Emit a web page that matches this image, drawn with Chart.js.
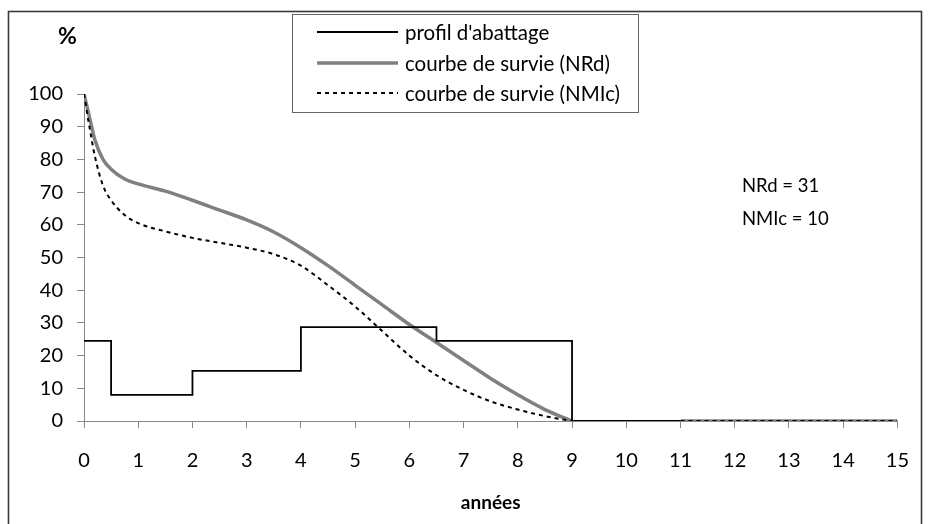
<!DOCTYPE html>
<html>
<head>
<meta charset="utf-8">
<script src="https://cdn.jsdelivr.net/npm/chart.js@4/dist/chart.umd.min.js"></script>
<style>
html,body{margin:0;padding:0;background:#fff;}
#wrap{position:relative;width:930px;height:524px;}
</style>
</head>
<body>
<div id="wrap"><canvas id="c" width="930" height="524"></canvas></div>
<script>
// ---- data ----
const profilX = [0, 0.5, 2, 4, 6.5, 9, 11];
const profilY = [24.5, 8, 15.3, 28.7, 24.5, 0, 0];

const survieX = [0, 0.1, 0.2, 0.35, 0.5, 0.75, 1, 1.5, 2, 2.5, 3, 3.5, 4, 4.5, 5, 5.5, 6, 6.5, 7, 7.5, 8, 8.5, 9, 10, 11, 12, 13, 14, 15];
const nrdY    = [100, 93, 86, 80, 77, 74, 72.5, 70.3, 67.5, 64.5, 61.5, 57.8, 53, 47.5, 41.5, 35.5, 29.5, 24, 18.5, 13, 8, 3.5, 0, null, 0, 0, 0, 0, 0];
const nmicY   = [100, 90, 81, 72, 67.5, 63, 60.5, 58, 56, 54.5, 53, 51, 47.5, 41.5, 35, 27.5, 20, 14, 9.5, 6, 3.5, 1.5, 0, null, 0, 0, 0, 0, 0];

const xTicks = [0,1,2,3,4,5,6,7,8,9,10,11,12,13,14,15];
const yTicks = [0,10,20,30,40,50,60,70,80,90,100];

const legendLabels = ["profil d'abattage", "courbe de survie (NRd)", "courbe de survie (NMIc)"];
const notes = ["NRd = 31", "NMIc = 10"];
const xTitle = "années";
const yTitle = "%";

const FONT = "Lato, 'Open Sans', sans-serif";

const pts = (xs, ys) => xs.map((x, i) => ({x: x, y: ys[i]}));

const decor = {
  id: 'decor',
  beforeDraw(chart) {
    const ctx = chart.ctx;
    ctx.save();
    ctx.fillStyle = '#fff';
    ctx.fillRect(0, 0, chart.width, chart.height);
    ctx.restore();
  },
  afterDraw(chart) {
    const ctx = chart.ctx;
    ctx.save();
    // outer frame
    ctx.strokeStyle = '#3a3a3a';
    ctx.lineWidth = 1.6;
    ctx.strokeRect(8.5, 11.5, 913, 530);
    // legend box
    ctx.fillStyle = '#fff';
    ctx.fillRect(292.5, 14.5, 346, 98);
    ctx.strokeStyle = '#666';
    ctx.lineWidth = 1;
    ctx.strokeRect(292.5, 14.5, 346, 98);
    const rows = [32, 63, 93];
    const styles = [
      {c: '#000', w: 1.8, d: []},
      {c: '#808080', w: 3.5, d: []},
      {c: '#000', w: 2, d: [4, 4]}
    ];
    ctx.font = '20.5px ' + FONT;
    ctx.textBaseline = 'middle';
    ctx.textAlign = 'left';
    rows.forEach((y, i) => {
      const s = styles[i];
      ctx.beginPath();
      ctx.strokeStyle = s.c; ctx.lineWidth = s.w; ctx.setLineDash(s.d);
      ctx.moveTo(317, y); ctx.lineTo(398, y); ctx.stroke();
      ctx.setLineDash([]);
      ctx.fillStyle = '#000';
      ctx.fillText(legendLabels[i], 405, y + 1);
    });
    // notes
    ctx.font = '18.5px ' + FONT;
    ctx.fillText(notes[0], 742, 186);
    ctx.fillText(notes[1], 742, 219);
    // y title
    ctx.font = 'bold 23px ' + FONT;
    ctx.textAlign = 'center';
    ctx.fillText(yTitle, 67.5, 37);
    ctx.restore();
  }
};

new Chart(document.getElementById('c'), {
  type: 'line',
  data: {
    datasets: [
      {label: legendLabels[0], data: pts(profilX, profilY), stepped: 'before', borderColor: '#000', borderWidth: 1.8, pointRadius: 0, fill: false},
      {label: legendLabels[2], data: pts(survieX, nmicY), borderColor: '#000', borderWidth: 2, borderDash: [4, 4], pointRadius: 0, cubicInterpolationMode: 'monotone', spanGaps: false, fill: false},
      {label: legendLabels[1], data: pts(survieX, nrdY), borderColor: '#808080', borderWidth: 3.5, pointRadius: 0, cubicInterpolationMode: 'monotone', spanGaps: false, fill: false}
    ]
  },
  options: {
    responsive: false,
    animation: false,
    devicePixelRatio: 1,
    layout: {padding: {left: 0, top: 94, right: 31, bottom: 0}},
    plugins: {legend: {display: false}, tooltip: {enabled: false}},
    scales: {
      x: {
        type: 'linear', min: 0, max: 15,
        afterFit: s => { s.height = 103; },
        afterBuildTicks: s => { s.ticks = xTicks.map(v => ({value: v})); },
        ticks: {font: {family: FONT, size: 20}, color: '#000', padding: 21, maxRotation: 0, autoSkip: false},
        grid: {drawOnChartArea: false, drawTicks: true, tickLength: 7, color: '#888', tickColor: '#888'},
        border: {color: '#888', width: 1},
        title: {display: true, text: xTitle, font: {family: FONT, size: 19, weight: 'bold'}, color: '#000', padding: {top: 0, bottom: 10}}
      },
      y: {
        min: 0, max: 100,
        afterFit: s => { s.width = 84; },
        afterBuildTicks: s => { s.ticks = yTicks.map(v => ({value: v})); },
        ticks: {font: {family: FONT, size: 20}, color: '#000', padding: 14, autoSkip: false},
        grid: {drawOnChartArea: false, drawTicks: true, tickLength: 7, color: '#888', tickColor: '#888'},
        border: {color: '#888', width: 1}
      }
    }
  },
  plugins: [decor]
});
</script>
</body>
</html>
